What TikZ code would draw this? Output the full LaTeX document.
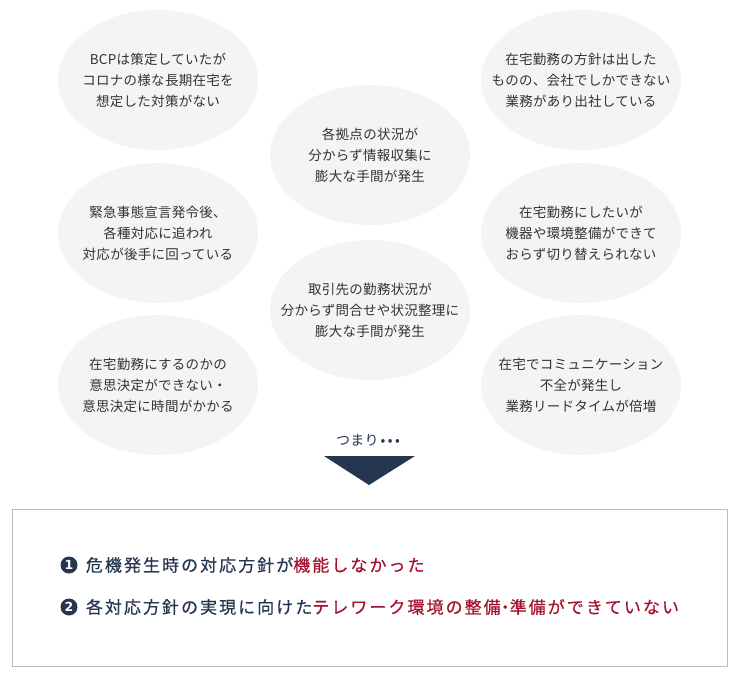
\documentclass[tikz,border=0pt]{standalone}
\usepackage{fontspec}
\usepackage{xcolor}
\usetikzlibrary{positioning, shapes.geometric}

\newfontfamily\jpfont[LetterSpace=2]{Noto Sans CJK JP}
\newfontfamily\jpbig[LetterSpace=12, FakeBold=0.5]{Noto Sans CJK JP}
\newfontfamily\numfont{DejaVu Sans}

\definecolor{bubblegray}{HTML}{F4F4F4}
\definecolor{textgray}{HTML}{333333}
\definecolor{navy}{HTML}{253650}
\definecolor{deepred}{HTML}{A3122F}
\definecolor{framegray}{HTML}{B4BAC6}

\begin{document}
\begin{tikzpicture}[
    x=1pt, y=-1pt,
    issue/.style={ellipse, fill=bubblegray, minimum width=200pt, minimum height=140pt, inner xsep=-40pt, inner ysep=0pt, align=center, text=textgray, font=\jpfont\fontsize{13.5}{21}\selectfont},
    point/.style={anchor=west, inner sep=0pt, text=navy, font=\jpbig\fontsize{17}{20}\selectfont},
    num/.style={circle, fill=navy, text=white, inner sep=0pt, minimum size=17pt, font=\numfont\bfseries\fontsize{12.5}{12.5}\selectfont}
]
    \useasboundingbox (0,0) rectangle (740,677);

    % left column
    \node[issue] (bcp) at (158,80) {BCPは策定していたが\\コロナの様な長期在宅を\\想定した対策がない};
    \node[issue] (emergency) at (158,233) {緊急事態宣言発令後、\\各種対応に追われ\\対応が後手に回っている};
    \node[issue] (decision) at (158,385) {在宅勤務にするのかの\\意思決定ができない・\\意思決定に時間がかかる};

    % middle column
    \node[issue] (sites) at (370,155) {各拠点の状況が\\分からず情報収集に\\膨大な手間が発生};
    \node[issue] (clients) at (370,310) {取引先の勤務状況が\\分からず問合せや状況整理に\\膨大な手間が発生};

    % right column
    \node[issue] (office) at (581,80) {在宅勤務の方針は出した\\ものの、会社でしかできない\\業務があり出社している};
    \node[issue] (equipment) at (581,233) {在宅勤務にしたいが\\機器や環境整備ができて\\おらず切り替えられない};
    \node[issue] (comm) at (581,385) {在宅でコミュニケーション\\不全が発生し\\業務リードタイムが倍増};

    % so...
    \node[text=navy, font=\jpfont\fontsize{14}{14}\selectfont] (thus) at (368,440) {つまり\hspace{2pt}•\hspace{2.5pt}•\hspace{2.5pt}•};
    \fill[navy] (324,456) -- (415,456) -- (369,485) -- cycle;

    % conclusion box
    \node[draw=framegray, line width=1pt, minimum width=715pt, minimum height=157pt, anchor=north west] (summary) at (12,509) {};

    \node[num] (n1) at (69,565) {1};
    \node[point, right=8pt of n1] (p1) {危機発生時の対応方針が\textcolor{deepred}{機能しなかった}};
    \node[num] (n2) at (69,607) {2};
    \node[point, right=8pt of n2] (p2) {各対応方針の実現に向けた\textcolor{deepred}{テレワーク環境の整備\kern-4pt・\kern-4pt 準備ができていない}};

\end{tikzpicture}
\end{document}
